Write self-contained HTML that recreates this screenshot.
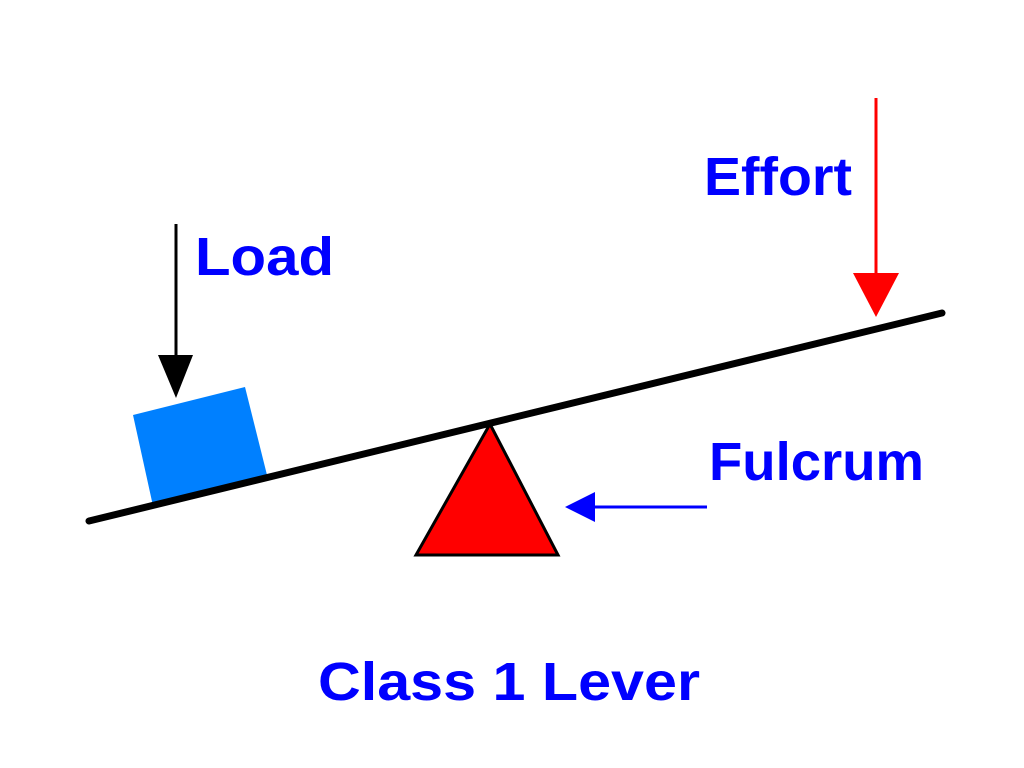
<!DOCTYPE html>
<html>
<head>
<meta charset="utf-8">
<style>
html,body{margin:0;padding:0;background:#fff;}
svg{display:block;}
text{font-family:"Liberation Sans",Arial,sans-serif;font-weight:bold;fill:#0000ff;}
</style>
</head>
<body>
<svg width="1024" height="768" viewBox="0 0 1024 768" xmlns="http://www.w3.org/2000/svg">
  <rect width="1024" height="768" fill="#fff"/>
  <!-- Load box -->
  <polygon points="133,415 245,387 267,475 153,506" fill="#0080ff"/>
  <!-- Fulcrum triangle -->
  <polygon points="490,424 416,555 558,555" fill="#ff0000" stroke="#000" stroke-width="3" stroke-linejoin="miter"/>
  <!-- Lever -->
  <line x1="89" y1="521" x2="942" y2="313" stroke="#000" stroke-width="7" stroke-linecap="round"/>
  <!-- Load arrow -->
  <line x1="176" y1="224" x2="176" y2="362" stroke="#000" stroke-width="3"/>
  <polygon points="158,355 193,355 176,398" fill="#000"/>
  <!-- Effort arrow -->
  <line x1="876" y1="98" x2="876" y2="280" stroke="#ff0000" stroke-width="3"/>
  <polygon points="853,273 899,273 876,317" fill="#ff0000"/>
  <!-- Fulcrum arrow -->
  <line x1="590" y1="507" x2="707" y2="507" stroke="#0000ff" stroke-width="3"/>
  <polygon points="565,507 595,492 595,522" fill="#0000ff"/>
  <!-- Labels -->
  <text x="195" y="275" font-size="54" textLength="139" lengthAdjust="spacingAndGlyphs">Load</text>
  <text x="704" y="195" font-size="54" textLength="148" lengthAdjust="spacingAndGlyphs">Effort</text>
  <text x="709" y="480" font-size="54" textLength="215" lengthAdjust="spacingAndGlyphs">Fulcrum</text>
  <text x="318" y="700" font-size="54" textLength="382" lengthAdjust="spacingAndGlyphs">Class 1 Lever</text>
</svg>
</body>
</html>
